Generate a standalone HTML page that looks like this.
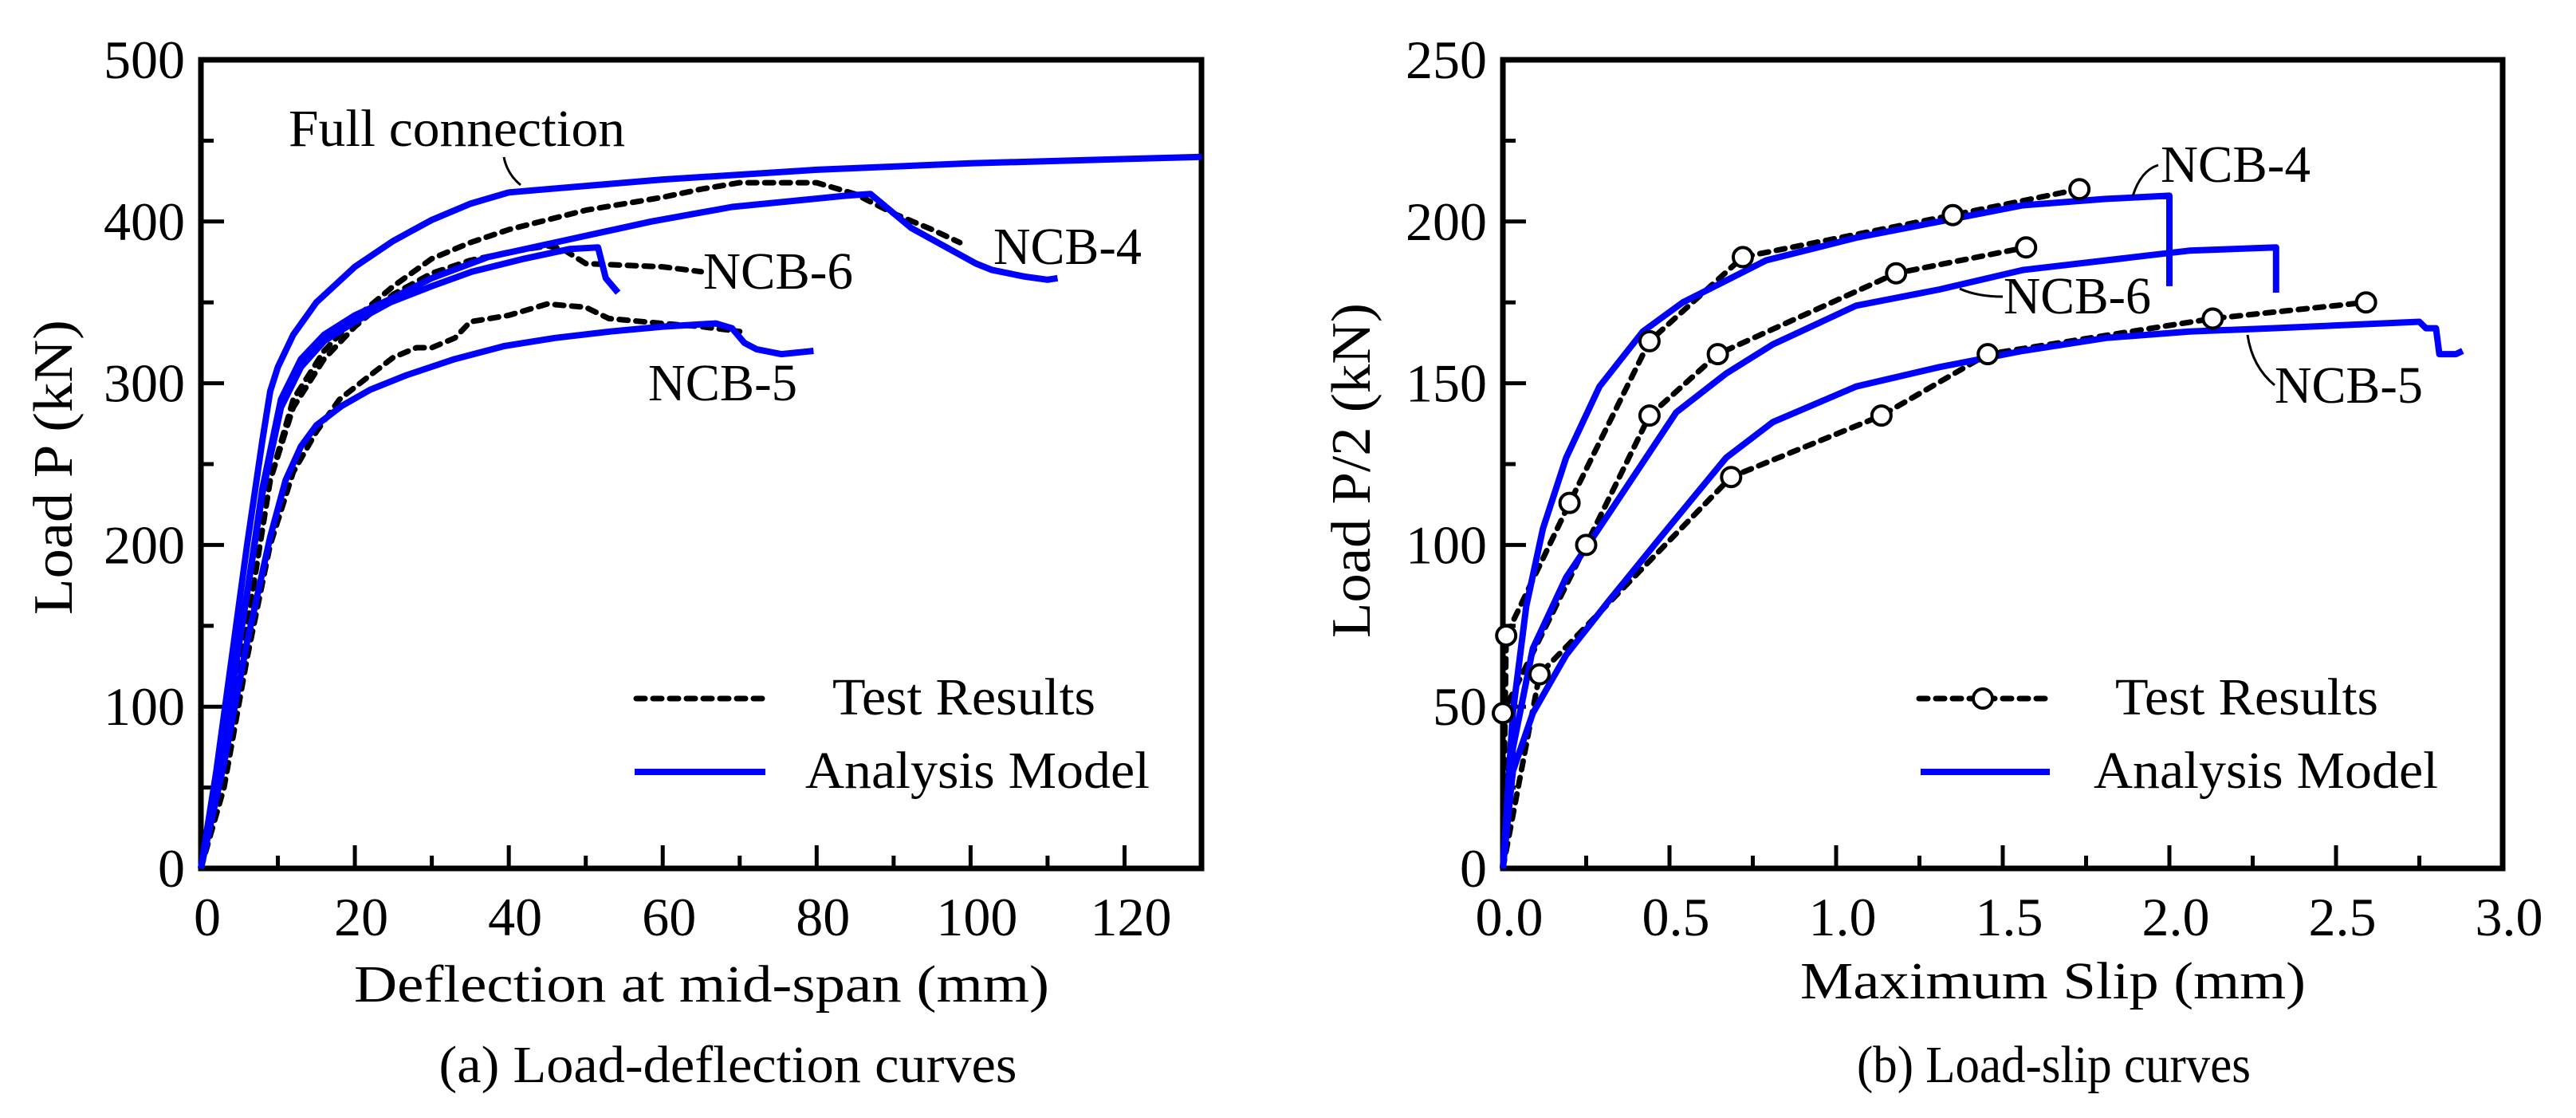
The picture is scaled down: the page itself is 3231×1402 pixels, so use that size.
<!DOCTYPE html>
<html><head><meta charset="utf-8"><style>
html,body{margin:0;padding:0;background:#fff;}
svg{display:block;font-family:"Liberation Serif",serif;}
</style></head><body>
<svg id="fig" width="3231" height="1402" viewBox="0 0 3231 1402">
<g id="plotA"></g>
<g id="plotB"></g>
</svg>
<script>
// ---- Chart (a) data ----
const aXTicks = [0,20,40,60,80,100,120];
const aYTicks = [0,100,200,300,400,500];
const aFull = [[0,0],[2,60],[4,130],[6,200],[8,265],[9,295],[10,310],[12,330],[15,350],[20,372],[25,388],[30,401],[35,411],[40,418],[45,420],[60,426],[80,432],[100,436],[130,440]];
const aNcb4Model = [[0,0],[3,80],[6,170],[8,235],[10.4,290],[13,315],[16,330],[20,342],[24.6,352],[30,365],[37.3,378],[47.9,389],[58.5,400],[69,409],[83.8,416],[87,417],[92.3,396],[96.5,385],[100.7,374],[102.8,370],[107,366],[110,364],[111.3,365]];
const aNcb6Model = [[0,0],[3,80],[6,170],[8,232],[10.4,285],[13,310],[16,326],[20,338],[24.6,350],[30,360],[35.2,369],[42,377],[47.9,383],[51.6,384],[52.6,365],[54.2,356]];
const aNcb5Model = [[0,0],[3,65],[6,140],[9,205],[11,240],[13,261],[15,274],[18.3,286],[22,296],[26.7,305],[33,315],[39.4,323],[46,328],[53.2,332],[60,335],[66.9,337],[69,334],[70.6,325],[72.2,321],[75.4,318],[79.6,320]];
const aNcb4Test = [[0,0],[3,60],[6,150],[9,240],[12,290],[16,320],[20,340],[25,360],[30,377],[35,387],[40,395],[50,407],[60,415],[65,420],[70,424],[80,424],[85,417],[90,405],[95,395],[98.6,387]];
const aNcb6Test = [[0,0],[3,60],[6,150],[9,240],[12,285],[16,315],[20,335],[25,355],[30,368],[35,376],[40,381],[45,385],[47,383],[50,374],[55,373],[60,372],[65,369]];
const aNcb5Test = [[0,0],[3,50],[6,130],[9,200],[12,245],[15,270],[18,290],[22,305],[25,316],[28,322],[30,322],[33,328],[35,338],[40,342],[45,349],[50,347],[53,340],[60,337],[65,335],[70,332]];
// ---- Chart (b) data ----
const bXTicks = [0,0.5,1.0,1.5,2.0,2.5,3.0];
const bYTicks = [0,50,100,150,200,250];
const bNcb4Test = [[0,0],[0.01,72],[0.2,113],[0.44,163],[0.72,189],[1.35,202],[1.73,210]];
const bNcb6Test = [[0,0],[0.0,48],[0.25,100],[0.44,140],[0.645,159],[1.18,184],[1.57,192]];
const bNcb5Test = [[0,0],[0.11,60],[0.685,121],[1.136,140],[1.455,159],[2.13,170],[2.59,175]];
const bNcb4Model = [[0,0],[0.03,48],[0.07,81],[0.12,105],[0.19,127],[0.29,149],[0.42,166],[0.54,175],[0.79,188],[1.06,195],[1.31,200],[1.56,205],[1.81,207],[2.0,208],[2.0,180]];
const bNcb6Model = [[0,0],[0.03,37],[0.09,68],[0.19,90],[0.32,110],[0.52,141],[0.67,153],[0.81,162],[1.06,174],[1.31,179],[1.56,185],[1.81,188],[2.06,191],[2.32,192],[2.32,178]];
const bNcb5Model = [[0,0],[0.03,30],[0.09,48],[0.19,66],[0.32,83],[0.47,102],[0.67,127],[0.81,138],[1.06,149],[1.31,155],[1.56,160],[1.81,164],[2.06,166],[2.31,167],[2.75,169],[2.77,167],[2.8,167],[2.81,159],[2.86,159],[2.88,160]];

const NS='http://www.w3.org/2000/svg';
function mk(parent,tag,attrs){const e=document.createElementNS(NS,tag);for(const k in attrs)e.setAttribute(k,attrs[k]);parent.appendChild(e);return e;}
function txt(parent,x,y,s,size,anchor,name,len){const t=mk(parent,'text',{x:x,y:y,'font-size':size,'text-anchor':anchor||'start',fill:'#000'});t.textContent=s;
if(len){t.setAttribute('textLength',len);t.setAttribute('lengthAdjust','spacingAndGlyphs');}


return t;}

function axes(g,L,R,T,B,xmin,xmax,ymin,ymax,xt,yt,xminor,yminor,fmtX){
  const sx=v=>L+(v-xmin)/(xmax-xmin)*(R-L);
  const sy=v=>B-(v-ymin)/(ymax-ymin)*(B-T);
  const fr=mk(g,'rect',{x:L,y:T,width:R-L,height:B-T,fill:'none',stroke:'#000','stroke-width':7});
  
  
  for(const v of xt){const x=sx(v);const l=mk(g,'line',{x1:x,x2:x,y1:B,y2:B-29,stroke:'#000','stroke-width':5});
    
    
    txt(g,x+8,1173,fmtX(v),68,'middle','x-tick-label');}
  for(const v of xminor){const x=sx(v);const l=mk(g,'line',{x1:x,x2:x,y1:B,y2:B-16,stroke:'#000','stroke-width':5});
    
    }
  for(const v of yt){const y=sy(v);const l=mk(g,'line',{x1:L,x2:L+29,y1:y,y2:y,stroke:'#000','stroke-width':5});
    
    
    txt(g,L-20,y+23,String(v),68,'end','y-tick-label');}
  for(const v of yminor){const y=sy(v);const l=mk(g,'line',{x1:L,x2:L+16,y1:y,y2:y,stroke:'#000','stroke-width':5});
    
    }
  return {sx,sy};
}
function line(g,data,s,style,name){
  const d=data.map((p,i)=>(i?'L':'M')+s.sx(p[0]).toFixed(1)+' '+s.sy(p[1]).toFixed(1)).join(' ');
  const p=mk(g,'path',Object.assign({d:d,fill:'none','stroke-linejoin':'round'},style));
  
  
  return p;
}
const blue={stroke:'#0000ff','stroke-width':8};
const dash={stroke:'#000','stroke-width':7,'stroke-dasharray':'11 10','stroke-linecap':'round'};

// ---- Chart (a) ----
const gA=document.getElementById('plotA');
const sA=axes(gA,252,1507,75,1089,0,130,0,500,aXTicks,aYTicks,[10,30,50,70,90,110],[50,150,250,350,450],v=>String(v));
line(gA,aNcb5Test,sA,dash,'ncb5-test-line');
line(gA,aNcb6Test,sA,dash,'ncb6-test-line');
line(gA,aNcb4Test,sA,dash,'ncb4-test-line');
line(gA,aNcb5Model,sA,blue,'ncb5-model-line');
line(gA,aNcb6Model,sA,blue,'ncb6-model-line');
line(gA,aNcb4Model,sA,blue,'ncb4-model-line');
line(gA,aFull,sA,blue,'full-connection-line');
txt(gA,362,183,'Full connection',66,'start','full-connection-label',422);
const ldA=mk(gA,'path',{d:'M632 197 Q636 218 653 232',fill:'none',stroke:'#000','stroke-width':3});


txt(gA,882,362,'NCB-6',66,'start','ncb6-label',188);
txt(gA,1246,331,'NCB-4',66,'start','ncb4-label',186);
txt(gA,813,502,'NCB-5',66,'start','ncb5-label',187);
const lgA1=mk(gA,'line',{x1:798,x2:958,y1:876,y2:876,stroke:'#000','stroke-width':7,'stroke-dasharray':'11 10','stroke-linecap':'round'});


txt(gA,1044,896,'Test Results',66,'start','legend-test-label',330);
const lgA2=mk(gA,'line',{x1:796,x2:960,y1:968,y2:968,stroke:'#0000ff','stroke-width':8});


txt(gA,1010,988,'Analysis Model',66,'start','legend-model-label',432);
txt(gA,880,1256,'Deflection at mid-span (mm)',66,'middle','x-axis-title',872);
txt(gA,913,1357,'(a) Load-deflection curves',66,'middle','caption-a',725);
const ytA=txt(gA,0,0,'Load P (kN)',70,'middle','y-axis-title',370);
ytA.setAttribute('transform','translate(90 586) rotate(-90)');

// ---- Chart (b) ----
const gB=document.getElementById('plotB');
const sB=axes(gB,1885,3139,75,1089,0,3,0,250,bXTicks,bYTicks,[0.25,0.75,1.25,1.75,2.25,2.75],[25,75,125,175,225],v=>v.toFixed(1));
for(const [arr,nm] of [[bNcb5Test,'ncb5-test'],[bNcb6Test,'ncb6-test'],[bNcb4Test,'ncb4-test']]){
  line(gB,arr,sB,dash,nm+'-line');
}
line(gB,bNcb5Model,sB,blue,'ncb5-model-line');
line(gB,bNcb6Model,sB,blue,'ncb6-model-line');
line(gB,bNcb4Model,sB,blue,'ncb4-model-line');
for(const [arr,nm] of [[bNcb5Test,'ncb5-test'],[bNcb6Test,'ncb6-test'],[bNcb4Test,'ncb4-test']]){
  arr.slice(1).forEach(p=>{const c=mk(gB,'circle',{cx:sB.sx(p[0]),cy:sB.sy(p[1]),r:12,fill:'#fff',stroke:'#000','stroke-width':4});
    
    });
}
txt(gB,2710,228,'NCB-4',66,'start','ncb4-label',188);
txt(gB,2513,393,'NCB-6',66,'start','ncb6-label',185);
txt(gB,2853,505,'NCB-5',66,'start','ncb5-label',186);
for(const [d,n] of [['M2675 246 Q2685 214 2707 207','ncb4-leader'],['M2458 362 Q2480 372 2512 372','ncb6-leader'],['M2819 420 Q2825 460 2853 483','ncb5-leader']]){
  const p=mk(gB,'path',{d:d,fill:'none',stroke:'#000','stroke-width':3});
  
  
}
const lgB1=mk(gB,'line',{x1:2407,x2:2565,y1:876,y2:876,stroke:'#000','stroke-width':7,'stroke-dasharray':'11 10','stroke-linecap':'round'});


const lgBc=mk(gB,'circle',{cx:2487,cy:876,r:12,fill:'#fff',stroke:'#000','stroke-width':4});


txt(gB,2653,896,'Test Results',66,'start','legend-test-label',330);
const lgB2=mk(gB,'line',{x1:2409,x2:2571,y1:968,y2:968,stroke:'#0000ff','stroke-width':8});


txt(gB,2626,988,'Analysis Model',66,'start','legend-model-label',432);
txt(gB,2575,1252,'Maximum Slip (mm)',66,'middle','x-axis-title',634);
txt(gB,2576,1357,'(b) Load-slip curves',66,'middle','caption-b',494);
const ytB=txt(gB,0,0,'Load P/2 (kN)',70,'middle','y-axis-title',420);
ytB.setAttribute('transform','translate(1718 590) rotate(-90)');
</script>
</body></html>
